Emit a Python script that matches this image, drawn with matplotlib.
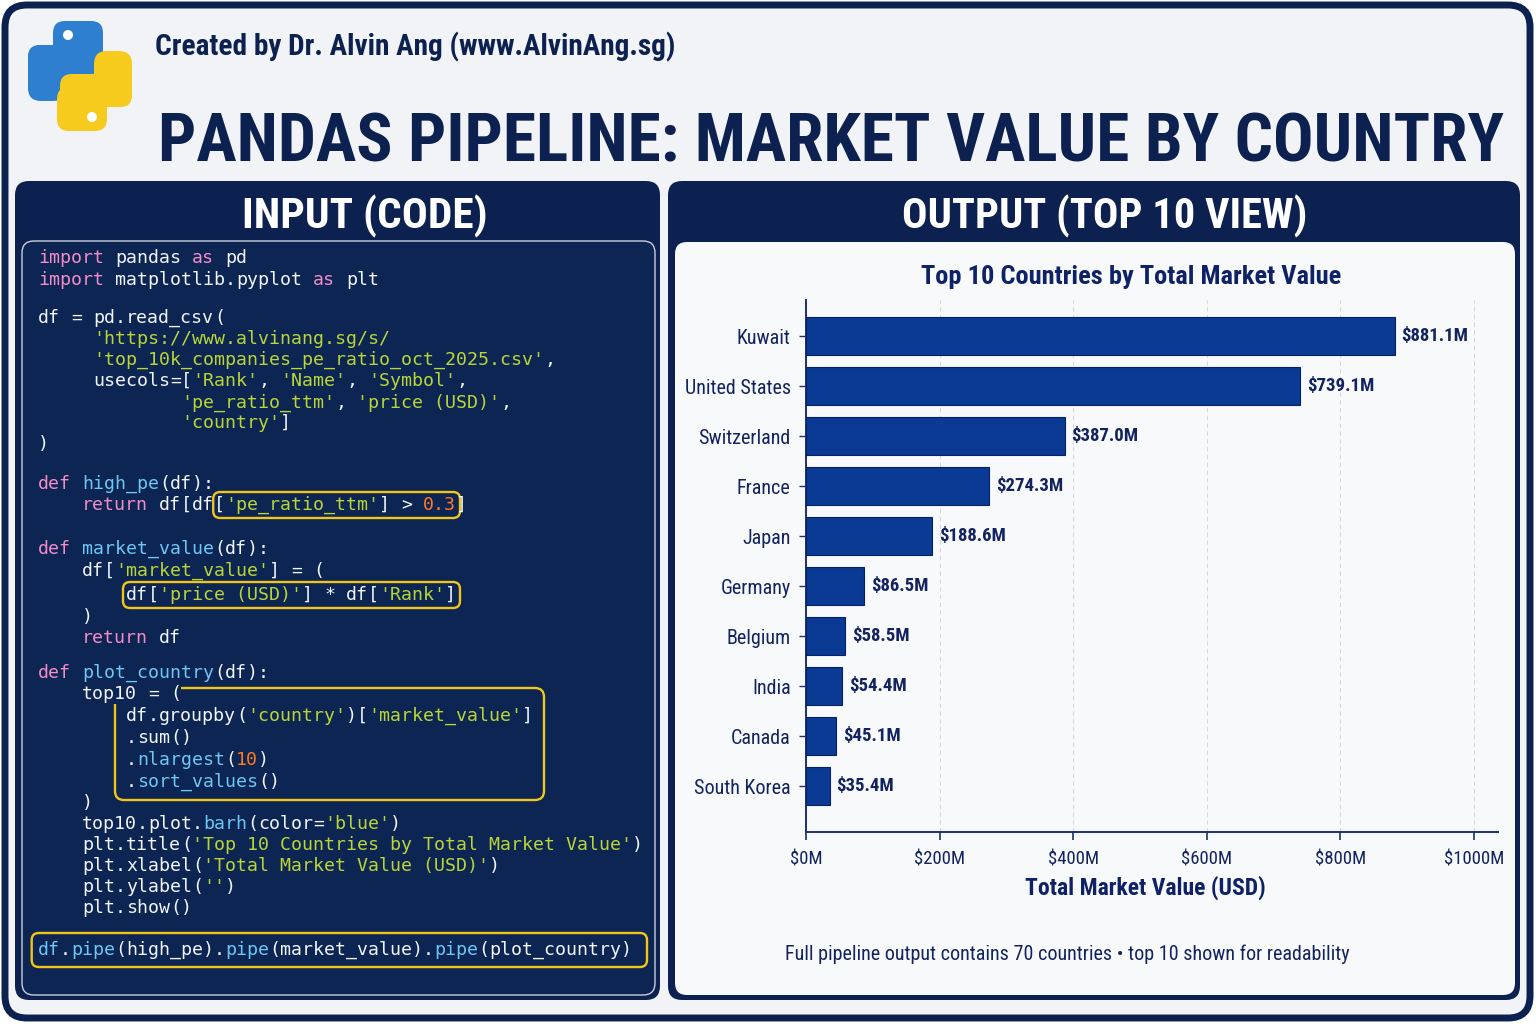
import re
import matplotlib
matplotlib.use("Agg")
import matplotlib.pyplot as plt
from matplotlib.patches import FancyBboxPatch, Circle, PathPatch
from matplotlib.path import Path
from matplotlib import font_manager as fm

# ---------------- data ----------------
countries = ["South Korea", "Canada", "India", "Belgium", "Germany",
             "Japan", "France", "Switzerland", "United States", "Kuwait"]
values = [35.4, 45.1, 54.4, 58.5, 86.5, 188.6, 274.3, 387.0, 739.1, 881.1]
xticks = [0, 200, 400, 600, 800, 1000]
xtick_labels = ["$0M", "$200M", "$400M", "$600M", "$800M", "$1000M"]

credit = "Created by Dr. Alvin Ang (www.AlvinAng.sg)"
main_title = "PANDAS PIPELINE: MARKET VALUE BY COUNTRY"
left_header = "INPUT (CODE)"
right_header = "OUTPUT (TOP 10 VIEW)"
chart_title = "Top 10 Countries by Total Market Value"
x_label = "Total Market Value (USD)"
footnote = "Full pipeline output contains 70 countries \u2022 top 10 shown for readability"

code_lines = [
    "import pandas as pd",
    "import matplotlib.pyplot as plt",
    "",
    "df = pd.read_csv(",
    "     'https://www.alvinang.sg/s/",
    "     'top_10k_companies_pe_ratio_oct_2025.csv',",
    "     usecols=['Rank', 'Name', 'Symbol',",
    "             'pe_ratio_ttm', 'price (USD)',",
    "             'country']",
    ")",
    "",
    "def high_pe(df):",
    "    return df[df['pe_ratio_ttm'] > 0.3]",
    "",
    "def market_value(df):",
    "    df['market_value'] = (",
    "        df['price (USD)'] * df['Rank']",
    "    )",
    "    return df",
    "",
    "def plot_country(df):",
    "    top10 = (",
    "        df.groupby('country')['market_value']",
    "        .sum()",
    "        .nlargest(10)",
    "        .sort_values()",
    "    )",
    "    top10.plot.barh(color='blue')",
    "    plt.title('Top 10 Countries by Total Market Value')",
    "    plt.xlabel('Total Market Value (USD)')",
    "    plt.ylabel('')",
    "    plt.show()",
    "",
    "df.pipe(high_pe).pipe(market_value).pipe(plot_country)",
]
code_y = [258, 280, 299, 318, 339, 360, 381, 403, 423, 444, 464, 484, 505, 527,
          549, 571, 595, 617, 638, 656, 673, 694, 716, 738, 760, 782, 803, 824,
          845, 866, 887, 908, 929, 950]

# ---------------- fonts ----------------
names = {f.name for f in fm.fontManager.ttflist}


def pick_condensed():
    for n in ["Liberation Sans Narrow", "Roboto Condensed", "Noto Sans Condensed",
              "Open Sans Condensed", "DejaVu Sans Condensed"]:
        if n in names:
            return dict(family=[n, "DejaVu Sans"])
    for f in fm.fontManager.ttflist:
        if f.name == "DejaVu Sans" and "Condensed" in f.fname:
            return dict(family=["DejaVu Sans"], fontstretch="condensed")
    return dict(family=["DejaVu Sans"])


def pick_heavy():
    for n in ["Noto Sans Condensed Black", "Noto Sans Condensed ExtraBold",
              "Roboto Condensed Black", "Roboto Condensed ExtraBold"]:
        if n in names:
            return dict(family=[n, "DejaVu Sans"], fontweight="bold")
    d = dict(pick_condensed())
    d["fontweight"] = "black"
    return d


COND = pick_condensed()
HEAVY = pick_heavy()
MONO = dict(family=["DejaVu Sans Mono"])

NAVY = "#0c2150"
CODE_BG = "#0d2553"
PAGE = "#f2f3f6"
TXT = "#13235f"
BAR = "#0b3a94"

# ---------------- figure ----------------
fig = plt.figure(figsize=(15.36, 10.24), dpi=100, facecolor="white")
bg = fig.add_axes([0, 0, 1, 1])
bg.set_xlim(0, 1536)
bg.set_ylim(1024, 0)
bg.axis("off")
renderer = fig.canvas.get_renderer()


def rbox(x, y, w, h, r, fc, ec="none", lw=0, z=1):
    p = FancyBboxPatch((x, y), w, h, boxstyle=f"round,pad=0,rounding_size={r}",
                       fc=fc, ec=ec, lw=lw, zorder=z)
    bg.add_patch(p)
    return p


def fit_text(x, y, s, width_px, max_pt, **kw):
    t = bg.text(x, y, s, fontsize=max_pt, **kw)
    w = t.get_window_extent(renderer).width
    if w > width_px:
        t.set_fontsize(max_pt * width_px / w)
    return t


# outer frame
rbox(5, 5, 1525, 1013, 22, PAGE, ec=NAVY, lw=5, z=0)

# python logo
BLUE_L, YEL_L = "#2f7fd0", "#f7cb1e"
rbox(53, 21, 50, 44, 12, BLUE_L, z=2)
rbox(28, 45, 72, 33, 12, BLUE_L, z=2)
rbox(28, 45, 38, 56, 13, BLUE_L, z=2)
rbox(57, 87, 50, 44, 12, YEL_L, z=3)
rbox(60, 74, 72, 33, 12, YEL_L, z=3)
rbox(94, 51, 38, 56, 13, YEL_L, z=3)
bg.add_patch(Circle((68, 35), 5, fc="white", zorder=4))
bg.add_patch(Circle((92, 117), 5, fc="white", zorder=4))

# header texts
fit_text(155, 55, credit, 520, 32, color=NAVY, fontweight="bold", ha="left",
         va="baseline", **COND)
fit_text(158, 162, main_title, 1347, 80, color=NAVY, ha="left", va="baseline",
         **HEAVY)

# left panel
rbox(15, 181, 645, 819, 14, NAVY, z=1)
rbox(22, 241, 633, 754, 12, CODE_BG, ec="#c9cfda", lw=1.0, z=2)
fit_text(365, 229, left_header, 245, 36, color="white", fontweight="bold",
         ha="center", va="baseline", **COND)

# right panel
rbox(668, 181, 852, 819, 14, NAVY, z=1)
rbox(675, 242, 840, 753, 12, "#f8f9fb", z=2)
fit_text(1105, 229, right_header, 405, 36, color="white", fontweight="bold",
         ha="center", va="baseline", **COND)

# ---------------- code ----------------
CW = 11.0  # character advance in px
code_pt = CW / 0.6021 * 72 / 100
X0 = 38
KW = {"import", "as", "def", "return"}
BLUEWORDS = {"barh", "nlargest", "sort_values", "pipe"}
C_KW, C_STR, C_NUM, C_FN, C_DEF = "#f48cc8", "#bad636", "#ff7a22", "#6cc8f5", "#f2f5fa"
tok_re = re.compile(r"'[^']*'?|\d+\.\d+|\d+|\w+|\s+|.")
for line, y in zip(code_lines, code_y):
    col = 0
    prev_word = None
    toks = tok_re.findall(line)
    for i, tok in enumerate(toks):
        if tok.startswith("'"):
            c = C_STR
        elif tok in KW:
            c = C_KW
        elif re.fullmatch(r"\d+(\.\d+)?", tok):
            c = C_NUM
        elif tok in BLUEWORDS or prev_word == "def":
            c = C_FN
        elif tok == "df" and line.startswith("df.pipe") and i == 0:
            c = C_FN
        else:
            c = C_DEF
        if tok.strip():
            bg.text(X0 + col * CW, y, tok, color=c, fontsize=code_pt, ha="left",
                    va="center", zorder=5, **MONO)
            if re.fullmatch(r"\w+", tok):
                prev_word = tok
        col += len(tok)

YEL = "#f1c619"


def hl_box(c0, c1, y0, y1):
    rbox(X0 + c0 * CW - 3, y0, (c1 - c0) * CW + 7, y1 - y0, 7, "none",
         ec=YEL, lw=1.7, z=4)


hl_box(16.2, 38, 492, 518)
hl_box(8, 38, 582, 608)
hl_box(-0.3, 55, 933, 967)
# groupby block (open at top-left where "top10 = (" sits)
gx0, gx1, gy0, gy1, r = X0 + 7 * CW, X0 + 46 * CW, 688, 800, 9
verts = [(X0 + 13 * CW, gy0), (gx1 - r, gy0), (gx1, gy0), (gx1, gy0 + r),
         (gx1, gy1 - r), (gx1, gy1), (gx1 - r, gy1), (gx0 + r, gy1),
         (gx0, gy1), (gx0, gy1 - r), (gx0, gy0 + 16)]
codes = [Path.MOVETO, Path.LINETO, Path.CURVE3, Path.CURVE3, Path.LINETO,
         Path.CURVE3, Path.CURVE3, Path.LINETO, Path.CURVE3, Path.CURVE3,
         Path.LINETO]
bg.add_patch(PathPatch(Path(verts, codes), fill=False, ec=YEL, lw=1.7, zorder=4))

# ---------------- chart ----------------
L, R, T, B = 806, 1498, 300, 832
ax = fig.add_axes([L / 1536, 1 - B / 1024, (R - L) / 1536, (B - T) / 1024])
ax.set_facecolor("none")
ypos = list(range(len(countries)))
ax.barh(ypos, values, height=0.75, color=BAR, edgecolor="#062262", lw=0.8, zorder=3)
ax.set_xlim(0, 1000 * (R - L) / (1474 - L))
ax.set_ylim(-0.92, 9.72)
ax.set_xticks(xticks)
ax.set_xticklabels(xtick_labels)
ax.set_yticks(ypos)
ax.set_yticklabels(countries)
for s in ["top", "right"]:
    ax.spines[s].set_visible(False)
for s in ["left", "bottom"]:
    ax.spines[s].set_color("#1d2f6e")
    ax.spines[s].set_linewidth(1.4)
ax.xaxis.grid(True, ls=(0, (4, 3)), color="#d6d9e0", lw=0.8)
ax.set_axisbelow(True)
ax.tick_params(axis="x", colors="#1d2f6e", length=6, width=1.2, pad=7,
               labelsize=13.5, labelcolor=TXT)
ax.tick_params(axis="y", colors="#1d2f6e", length=5, width=1.0, pad=6,
               labelsize=14.5, labelcolor=TXT)
for lab in ax.get_xticklabels() + ax.get_yticklabels():
    lab.set_family(COND["family"])
    if "fontstretch" in COND:
        lab.set_stretch(COND["fontstretch"])
for v, yp in zip(values, ypos):
    ax.annotate(f"${v:.1f}M", (v, yp), xytext=(5, 0), textcoords="offset points",
                va="center", ha="left", fontsize=13.5, fontweight="bold", color=TXT,
                **COND)

bg.text(1131, 277, chart_title, ha="center", va="center", fontsize=19,
        fontweight="bold", color="#0f2167", zorder=6, **COND)
bg.text(1145, 888, x_label, ha="center", va="center", fontsize=17,
        fontweight="bold", color="#0f2167", zorder=6, **COND)
bg.text(1067, 954, footnote, ha="center", va="center", fontsize=14.5,
        color=TXT, zorder=6, **COND)

fig.savefig("out.png", dpi=100, facecolor="white")
